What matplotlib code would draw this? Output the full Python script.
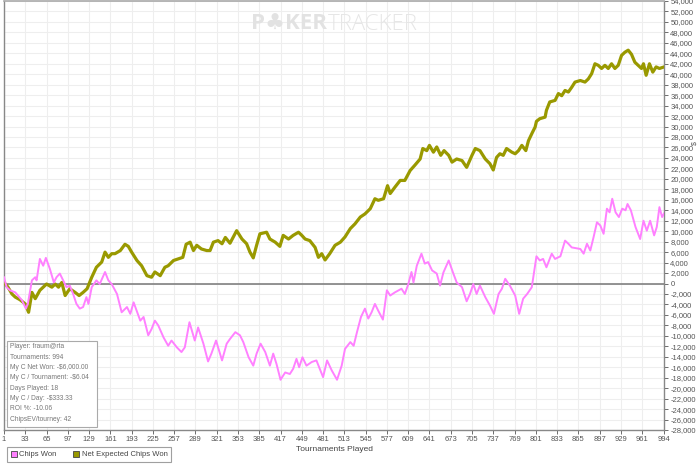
import numpy as np
import matplotlib
matplotlib.use('Agg')
import matplotlib.pyplot as plt
from matplotlib.lines import Line2D
from matplotlib.patches import Rectangle

plt.rcParams['font.family'] = ['Liberation Sans', 'DejaVu Sans']

# Chips Won (pink)
won_t = [1, 5, 10, 18, 22, 28, 34, 37, 43, 48, 50, 55, 60, 64, 70, 76, 80, 85, 90, 95,
         100, 105, 110, 115, 120, 125, 128, 133, 140, 145, 153, 158, 163, 171, 178, 186,
         191, 196, 206, 211, 218, 223, 228, 233, 241, 248, 253, 261, 268, 273, 280, 288,
         293, 301, 308, 313, 320, 329, 336, 341, 349, 356, 361, 369, 376, 381, 387, 394,
         401, 406, 411, 417, 424, 431, 436, 441, 445, 450, 456, 464, 471, 476, 481, 487,
         494, 502, 509, 514, 522, 527, 532, 538, 544, 549, 554, 559, 564, 571, 577, 582,
         589, 599, 604, 609, 614, 617, 622, 629, 634, 639, 645, 652, 657, 662, 670, 677,
         682, 690, 697, 702, 707, 712, 717, 725, 732, 738, 745, 750, 755, 762, 770, 776,
         782, 788, 795, 802, 807, 812, 817, 825, 830, 838, 845, 850, 855, 868, 873, 878,
         883, 888, 893, 898, 903, 908, 912, 916, 921, 926, 931, 936, 939, 944, 951, 958,
         963, 968, 973, 979, 983, 987, 991, 994]
won_v = [1200, -700, -1300, -1700, -2300, -3200, -4800, -3800, 600, 1200, 600, 4700,
         3400, 4900, 2800, 200, 1200, 1900, 600, -700, -400, -2000, -3900, -4800, -4500,
         -2600, -3900, -700, 600, -100, 2200, 600, -100, -2000, -5500, -4500, -5800,
         -3600, -7100, -6400, -9900, -8700, -7100, -8000, -10300, -11900, -10900, -12200,
         -13100, -12200, -7400, -10900, -8400, -11500, -14900, -13400, -10900, -14700,
         -11500, -10600, -9300, -9900, -11200, -14100, -15700, -13400, -11500, -13100,
         -15700, -13400, -15400, -18400, -17000, -17300, -16300, -14400, -16000, -14100,
         -15700, -15000, -14700, -16300, -17900, -14700, -16600, -18400, -15700, -12500,
         -11200, -11900, -9300, -6400, -4800, -6700, -5500, -3900, -5200, -6900, -1300,
         -2300, -1700, -1000, -2000, -200, 2200, 200, 3400, 5700, 3800, 4100, 2500, 1900,
         -400, 2100, 4400, 1900, 200, -700, -3400, -2000, -100, -2000, -400, -2600, -4200,
         -5800, -2000, -1000, 900, -400, -2300, -5800, -2900, -2000, -700, 5200, 4400,
         4700, 3100, 5700, 4700, 5200, 8200, 7600, 6900, 6600, 5700, 7600, 6300, 8900,
         11700, 11100, 9500, 14300, 13600, 16200, 13600, 12700, 14300, 14000, 15200,
         14000, 10800, 8500, 12000, 10100, 12000, 9200, 10800, 14600, 12700, 13400]

# Net Expected Chips Won (olive)
ev_t = [1, 7, 13, 18, 25, 33, 38, 43, 48, 55, 65, 73, 78, 83, 88, 93, 100, 108, 114,
        120, 126, 133, 140, 148, 153, 158, 163, 168, 176, 183, 188, 193, 201, 208, 216,
        223, 228, 236, 243, 248, 256, 263, 270, 275, 281, 286, 291, 298, 306, 311, 316,
        323, 329, 334, 341, 351, 359, 366, 371, 376, 381, 386, 396, 401, 409, 416, 421,
        429, 436, 444, 449, 454, 461, 469, 474, 479, 484, 491, 499, 507, 514, 522, 529,
        537, 544, 552, 559, 564, 572, 578, 582, 589, 597, 604, 612, 619, 627, 631, 637,
        641, 647, 652, 658, 663, 670, 675, 682, 690, 697, 705, 710, 717, 725, 732, 737,
        742, 747, 752, 757, 765, 770, 775, 780, 786, 790, 796, 800, 802, 807, 815, 817,
        822, 830, 835, 840, 845, 850, 855, 860, 868, 875, 880, 885, 890, 895, 900, 905,
        910, 915, 920, 925, 930, 935, 940, 945, 950, 955, 960, 963, 967, 972, 977, 982,
        987, 994]
ev_v = [200, -700, -2000, -2600, -3100, -3900, -5500, -1700, -2900, -1300, -100, -700,
        -100, -700, 200, -2300, -1000, -1700, -2300, -1700, -1000, 1200, 3100, 4100,
        6000, 5000, 5700, 5700, 6300, 7500, 7100, 6000, 4400, 3400, 1500, 1200, 2200,
        1500, 3100, 3400, 4400, 4700, 5000, 7500, 7900, 6300, 7300, 6600, 6300, 6300,
        7900, 8200, 7600, 8800, 7700, 10100, 8500, 7600, 6000, 4900, 7300, 9500, 9800,
        8500, 7900, 7100, 9200, 8500, 9200, 9800, 9200, 8500, 8200, 6900, 5000, 5700,
        4500, 5700, 7300, 7900, 8900, 10500, 11400, 12700, 13300, 14300, 16200, 15900,
        16200, 18700, 17200, 18400, 19700, 19700, 21600, 22600, 23800, 25800, 25400,
        26400, 25100, 26100, 24500, 25400, 24500, 23200, 23800, 23500, 22200, 24500,
        25800, 25400, 23800, 22900, 21700, 24100, 24800, 24500, 25800, 25100, 24800,
        25400, 26400, 25400, 27300, 28900, 29900, 31000, 31500, 31800, 33100, 34700,
        35000, 36300, 35900, 36900, 36600, 37500, 38500, 38800, 38500, 39100, 40100,
        42000, 41700, 41100, 41700, 41100, 42000, 41100, 41700, 43600, 44200, 44600,
        43800, 42300, 41700, 41100, 42000, 39800, 42000, 40400, 41400, 41100, 41400]

x_ticks = [1, 33, 65, 97, 129, 161, 193, 225, 257, 289, 321, 353, 385, 417, 449, 481,
           513, 545, 577, 609, 641, 673, 705, 737, 769, 801, 833, 865, 897, 929, 961, 994]
y_ticks = list(range(-28000, 54001, 2000))

info_lines = ['Player: fraum@rta', 'Tournaments: 994', 'My C Net Won: -$6,000.00',
              'My C / Tournament: -$6.04', 'Days Played: 18', 'My C / Day: -$333.33',
              'ROI %: -10.06', 'ChipsEV/tourney: 42']

pink = '#ff80ff'
olive = '#999900'
grid_c = '#eeeeee'
txt_c = '#555555'

fig = plt.figure(figsize=(7, 4.68), dpi=100)
ax = fig.add_axes([0.0057, 0.0812, 0.943, 0.9167])

ax.set_xlim(1, 994)
ax.set_ylim(-28000, 54000)

for t in x_ticks:
    ax.axvline(t, color=grid_c, lw=0.8, zorder=0)
for v in y_ticks:
    ax.axhline(v, color=grid_c, lw=0.8, zorder=0)
ax.axhline(0, color='#808080', lw=1.2, zorder=1)

ax.plot(ev_t, ev_v, color=olive, lw=2.3, zorder=3, solid_joinstyle='round')
ax.plot(won_t, won_v, color=pink, lw=1.4, zorder=4, solid_joinstyle='round')

# watermark
ax.text(0.489, 0.945, 'P\u2663KER', transform=ax.transAxes, fontsize=16, fontweight='bold',
        color='#e2e2e2', family=['Open Sans', 'DejaVu Sans'], ha='right', va='center', zorder=1)
ax.text(0.491, 0.945, 'TRACKER', transform=ax.transAxes, fontsize=16, fontweight='light',
        color='#e6e6e6', family='Open Sans', ha='left', va='center', zorder=1)

ax.yaxis.tick_right()
ax.set_yticks(y_ticks)
ax.set_yticklabels([f'{v:,}' for v in y_ticks])
ax.set_xticks(x_ticks)
ax.set_xticklabels([str(t) for t in x_ticks])
ax.tick_params(axis='both', labelsize=5.5, colors='#555555', length=3, width=0.6,
               labelcolor=txt_c, pad=1.5)

for side in ['left', 'right', 'bottom']:
    ax.spines[side].set_color('#888888')
    ax.spines[side].set_linewidth(1.0)
ax.spines['top'].set_color('#aaaaaa')
ax.spines['top'].set_linewidth(1.2)

ax.set_xlabel('Tournaments Played', fontsize=6, color='#444444', labelpad=2)
fig.text(0.993, 0.695, '$', fontsize=5, color='#555555', rotation=90, ha='center', va='center')

# info box
fig.patches.append(Rectangle((7 / 700, 1 - 427 / 468), 90 / 700, 86 / 468,
                             transform=fig.transFigure, facecolor='white',
                             edgecolor='#aaaaaa', lw=0.8, zorder=5))
for i, line in enumerate(info_lines):
    fig.text(10 / 700, 1 - (347 + i * 10.3) / 468, line, fontsize=4.8, color='#777777',
             ha='left', va='center', zorder=6)

# legend
handles = [Line2D([], [], ls='none', marker='s', markersize=4.5, markerfacecolor=pink,
                  markeredgecolor='#444444', markeredgewidth=0.6),
           Line2D([], [], ls='none', marker='s', markersize=4.5, markerfacecolor=olive,
                  markeredgecolor='#444444', markeredgewidth=0.6)]
leg = fig.legend(handles, ['Chips Won', 'Net Expected Chips Won'], loc='lower left',
                 bbox_to_anchor=(3 / 700, 2 / 468), ncol=2, fontsize=5.5, frameon=True,
                 fancybox=False, handlelength=0.8, handletextpad=0.3, columnspacing=2.2,
                 borderpad=0.5)
leg.get_frame().set_edgecolor('#888888')
leg.get_frame().set_linewidth(0.8)
for t in leg.get_texts():
    t.set_color('#444444')

fig.savefig('out.png', dpi=100)
